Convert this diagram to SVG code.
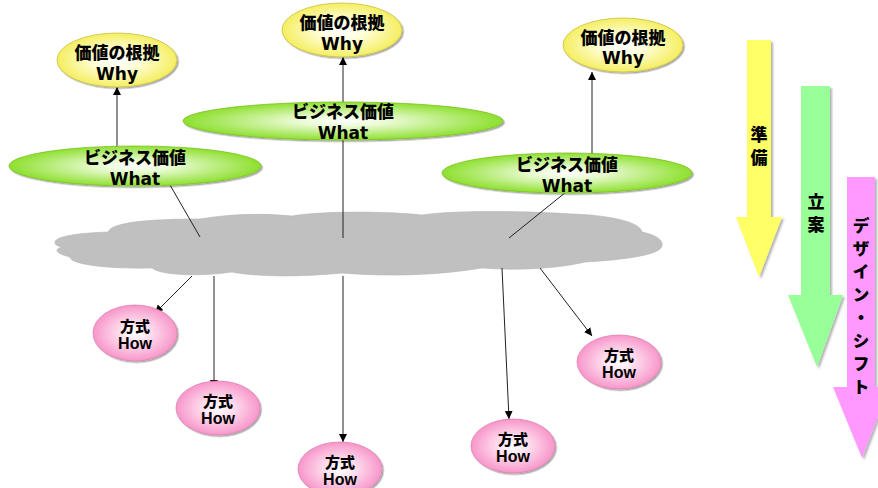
<svg xmlns="http://www.w3.org/2000/svg" width="878" height="488" viewBox="0 0 878 488">
<style>
.jp{font-family:"Noto Sans CJK JP","Noto Sans CJK SC",sans-serif;font-weight:900;text-anchor:middle;fill:#000}
.en{font-family:"DejaVu Sans","Liberation Sans",sans-serif;font-weight:bold;text-anchor:middle;fill:#000}
.ar{font-family:"Liberation Sans",Arial,sans-serif;font-weight:bold;text-anchor:middle;fill:#000}
.vt{font-family:"Noto Sans CJK JP","Noto Sans CJK SC",sans-serif;font-weight:900;fill:#000;writing-mode:vertical-rl;text-anchor:start}
.why{fill:url(#gWhy);stroke:#C8C040;stroke-width:0.8;filter:url(#sh)}
.what{fill:url(#gWhat);stroke:#7CC020;stroke-width:0.8;filter:url(#sh)}
.how{fill:url(#gHow);stroke:#E080B0;stroke-width:0.8;filter:url(#sh)}
.con{stroke:#222;stroke-width:1;fill:none}
.arr{marker-end:url(#ah)}
</style>
<defs>
<radialGradient id="gWhy" cx="0.5" cy="0.5" r="0.5"><stop offset="0" stop-color="#FFFFFF"/><stop offset="0.35" stop-color="#FFFFE0"/><stop offset="1" stop-color="#F5EE60"/></radialGradient>
<radialGradient id="gWhat" cx="0.5" cy="0.5" r="0.5"><stop offset="0" stop-color="#FFFFFF"/><stop offset="0.3" stop-color="#E8FAD0"/><stop offset="1" stop-color="#8EE030"/></radialGradient>
<radialGradient id="gHow" cx="0.5" cy="0.5" r="0.5"><stop offset="0" stop-color="#FFFFFF"/><stop offset="0.3" stop-color="#FFE6F2"/><stop offset="1" stop-color="#F796CA"/></radialGradient>
<filter id="sh" x="-10%" y="-10%" width="125%" height="130%"><feDropShadow dx="1.5" dy="1.5" stdDeviation="0.6" flood-color="#000" flood-opacity="0.35"/></filter>
<filter id="ash" x="-20%" y="-5%" width="150%" height="115%"><feDropShadow dx="2" dy="2" stdDeviation="0.8" flood-color="#000" flood-opacity="0.3"/></filter>
<marker id="ah" viewBox="0 0 10 10" refX="10" refY="5" markerWidth="8" markerHeight="8" markerUnits="userSpaceOnUse" orient="auto"><path d="M0,0 L10,5 L0,10 z" fill="#000"/></marker>
</defs>

<g id="cloud">
<path d="M55,242 C56,236 80,233 108,232 C112,222 150,219 200,219 C230,214 262,213 292,216 C322,211 385,211 422,215 C455,210 525,211 572,214 C605,215 640,221 642,232 C657,235 667,242 660,249 C652,256 620,260 585,262 C560,268 520,271 482,268 C440,275 392,277 342,273 C300,277 258,277 232,272 C198,277 160,275 152,268 C112,269 70,265 70,257 C58,254 52,250 62,247 C56,246 55,244 55,242 Z" fill="#C0C0C0" stroke="#B4B4B4" stroke-width="0.6"/>
</g>

<g id="connectors">
<line class="con arr" x1="117" y1="148" x2="117" y2="87"/>
<line class="con arr" x1="343" y1="238" x2="343" y2="57"/>
<line class="con arr" x1="592" y1="155" x2="592" y2="72"/>
<line class="con" x1="170" y1="185" x2="200" y2="237"/>
<line class="con" x1="566" y1="192" x2="509" y2="238"/>
<line class="con arr" x1="192" y1="276" x2="155" y2="313"/>
<line class="con arr" x1="214" y1="276" x2="214" y2="388"/>
<line class="con arr" x1="343" y1="276" x2="343" y2="442"/>
<line class="con arr" x1="502" y1="268" x2="509" y2="419"/>
<line class="con arr" x1="540" y1="268" x2="592" y2="336"/>
</g>

<g id="why-left"><ellipse class="why" cx="117" cy="60" rx="60" ry="27"/><text class="jp" x="117" y="59" font-size="17">価値の根拠</text><text class="en" x="117" y="80" font-size="17">Why</text></g>
<g id="why-mid"><ellipse class="why" cx="342" cy="30" rx="60" ry="27"/><text class="jp" x="342" y="29" font-size="17">価値の根拠</text><text class="en" x="342" y="50" font-size="17">Why</text></g>
<g id="why-right"><ellipse class="why" cx="623" cy="45" rx="60" ry="27"/><text class="jp" x="623" y="44" font-size="17">価値の根拠</text><text class="en" x="623" y="64" font-size="17">Why</text></g>

<g id="what-left"><ellipse class="what" cx="135" cy="166" rx="126" ry="20"/><text class="jp" x="135" y="164" font-size="17">ビジネス価値</text><text class="en" x="135" y="185" font-size="17">What</text></g>
<g id="what-mid"><ellipse class="what" cx="343" cy="121" rx="160" ry="19"/><text class="jp" x="343" y="118" font-size="17">ビジネス価値</text><text class="en" x="343" y="139" font-size="17">What</text></g>
<g id="what-right"><ellipse class="what" cx="567" cy="173" rx="125" ry="20"/><text class="jp" x="567" y="171" font-size="17">ビジネス価値</text><text class="en" x="567" y="192" font-size="17">What</text></g>

<g id="how-1"><ellipse class="how" cx="135" cy="333" rx="42" ry="28"/><text class="jp" x="135" y="332" font-size="15">方式</text><text class="ar" x="135" y="349" font-size="16">How</text></g>
<g id="how-2"><ellipse class="how" cx="218" cy="408" rx="42" ry="27"/><text class="jp" x="218" y="407" font-size="15">方式</text><text class="ar" x="218" y="424" font-size="16">How</text></g>
<g id="how-3"><ellipse class="how" cx="340" cy="469" rx="42" ry="27"/><text class="jp" x="340" y="468" font-size="15">方式</text><text class="ar" x="340" y="485" font-size="16">How</text></g>
<g id="how-4"><ellipse class="how" cx="513" cy="446" rx="42" ry="27"/><text class="jp" x="513" y="445" font-size="15">方式</text><text class="ar" x="513" y="462" font-size="16">How</text></g>
<g id="how-5"><ellipse class="how" cx="619" cy="362" rx="42" ry="27"/><text class="jp" x="619" y="361" font-size="15">方式</text><text class="ar" x="619" y="378" font-size="16">How</text></g>

<g id="phase-prep">
<polygon points="747,40 771,40 771,217 782,217 759,277 736,217 747,217" fill="#FFFF66" filter="url(#ash)"/>
<text class="vt" x="759" y="126" font-size="17" letter-spacing="6">準備</text>
</g>
<g id="phase-plan">
<polygon points="801,86 830,86 830,295 843,295 817,367 788,295 801,295" fill="#99FF99" filter="url(#ash)"/>
<text class="vt" x="816" y="193" font-size="17" letter-spacing="6">立案</text>
</g>
<g id="phase-design">
<polygon points="847,177 875,177 875,387 889,387 862,458 833,387 847,387" fill="#FF99FF" filter="url(#ash)"/>
<text class="vt" x="861" y="217" font-size="17" letter-spacing="6">デザイン・シフト</text>
</g>
</svg>
